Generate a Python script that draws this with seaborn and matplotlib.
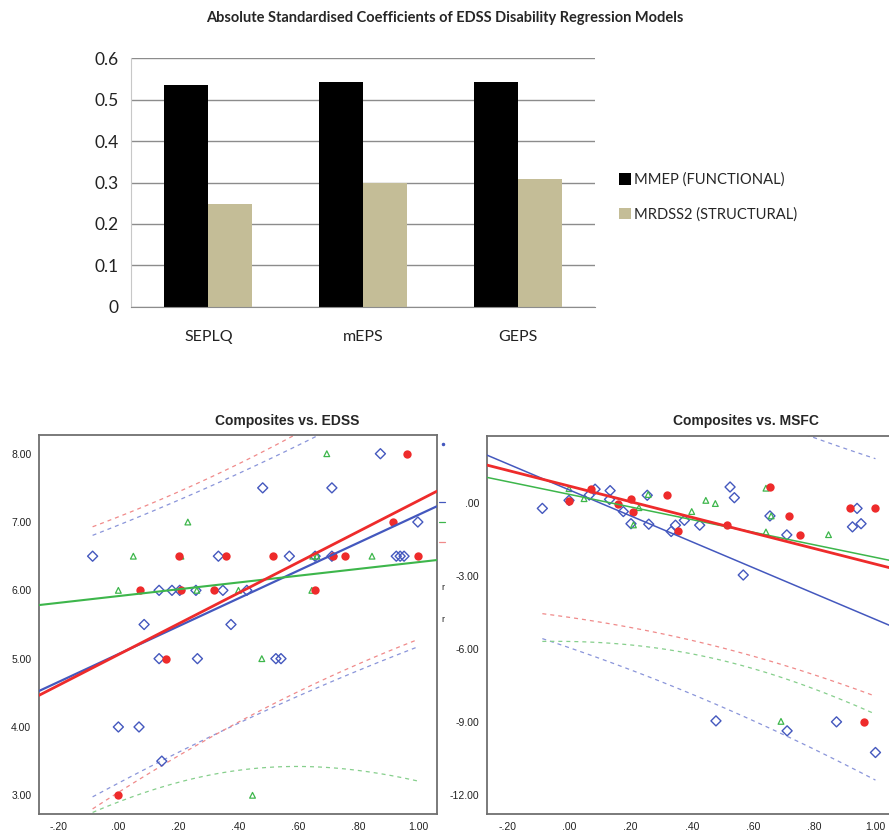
import numpy as np
import pandas as pd
import matplotlib
matplotlib.use("Agg")
import matplotlib.pyplot as plt
import seaborn as sns
from matplotlib import font_manager
from matplotlib.ticker import FuncFormatter, FixedLocator
from matplotlib.patches import Patch
from matplotlib.lines import Line2D

# ---------------- data: bar chart ----------------
bar_categories = ["SEPLQ", "mEPS", "GEPS"]
bar_series = ["MMEP (FUNCTIONAL)", "MRDSS2 (STRUCTURAL)"]
mmep_values = [0.536, 0.543, 0.543]
mrdss2_values = [0.248, 0.300, 0.309]
bar_yticks = [0, 0.1, 0.2, 0.3, 0.4, 0.5, 0.6]

# ---------------- data: Composites vs. EDSS ----------------
edss_blue_x = [-0.086, 0.0, 0.069, 0.086, 0.136, 0.136, 0.145, 0.179, 0.205, 0.259,
               0.264, 0.334, 0.349, 0.376, 0.429, 0.482, 0.526, 0.543, 0.571, 0.657,
               0.713, 0.713, 0.875, 0.928, 0.941, 0.954, 1.0]
edss_blue_y = [6.5, 4.0, 4.0, 5.5, 6.0, 5.0, 3.5, 6.0, 6.0, 6.0,
               5.0, 6.5, 6.0, 5.5, 6.0, 7.5, 5.0, 5.0, 6.5, 6.5,
               7.5, 6.5, 8.0, 6.5, 6.5, 6.5, 7.0]
edss_red_x = [0.0, 0.072, 0.160, 0.204, 0.210, 0.320, 0.359, 0.517, 0.657, 0.718,
              0.757, 0.916, 0.964, 1.0]
edss_red_y = [3.0, 6.0, 5.0, 6.5, 6.0, 6.0, 6.5, 6.5, 6.0, 6.5,
              6.5, 7.0, 8.0, 6.5]
edss_green_x = [0.0, 0.05, 0.209, 0.232, 0.262, 0.401, 0.448, 0.479, 0.646, 0.649,
                0.663, 0.696, 0.847]
edss_green_y = [6.0, 6.5, 6.5, 7.0, 6.0, 6.0, 3.0, 5.0, 6.0, 6.5,
                6.5, 8.0, 6.5]
# fitted lines (intercept at x=0, slope): blue, green, red
edss_fit_intercept = [5.066, 5.916, 5.059]
edss_fit_slope = [2.035, 0.496, 2.249]

# ---------------- data: Composites vs. MSFC ----------------
msfc_blue_x = [-0.087, 0.0, 0.066, 0.085, 0.134, 0.132, 0.177, 0.202, 0.255, 0.260,
               0.333, 0.347, 0.376, 0.426, 0.479, 0.525, 0.539, 0.568, 0.655, 0.710,
               0.711, 0.872, 0.924, 0.939, 0.952, 0.999]
msfc_blue_y = [-0.21, 0.12, 0.34, 0.58, 0.52, 0.16, -0.34, -0.84, 0.33, -0.86,
               -1.16, -0.90, -0.70, -0.90, -8.95, 0.67, 0.23, -2.95, -0.52, -1.30,
               -9.36, -8.99, -0.97, -0.21, -0.84, -10.25]
msfc_red_x = [0.0, 0.071, 0.159, 0.202, 0.209, 0.318, 0.354, 0.514, 0.655, 0.716,
              0.754, 0.915, 0.961, 0.999]
msfc_red_y = [0.10, 0.60, -0.01, 0.16, -0.34, 0.34, -1.16, -0.90, 0.67, -0.52,
              -1.30, -0.21, -8.99, -0.21]
msfc_green_x = [0.0, 0.049, 0.210, 0.228, 0.258, 0.400, 0.446, 0.477, 0.642, 0.642,
                0.659, 0.691, 0.846]
msfc_green_y = [0.60, 0.19, -0.89, -0.18, 0.36, -0.34, 0.12, -0.01, 0.62, -1.18,
                -0.52, -8.97, -1.29]
msfc_fit_intercept = [0.554, 0.370, 0.711]
msfc_fit_slope = [-5.335, -2.599, -3.216]

scatter_xticks = [-0.2, 0.0, 0.2, 0.4, 0.6, 0.8, 1.0]
edss_yticks = [3, 4, 5, 6, 7, 8]
msfc_yticks = [-12, -9, -6, -3, 0]

# ---------------- styling ----------------
sns.set_style("white")
available = {f.name for f in font_manager.fontManager.ttflist}
if "Liberation Sans Narrow" in available:
    narrow = "Liberation Sans Narrow"
elif "Lato" in available:
    narrow = "Lato"
else:
    narrow = "DejaVu Sans"
arial = "Liberation Sans" if "Liberation Sans" in available else "DejaVu Sans"
plt.rcParams["font.family"] = [arial, "DejaVu Sans"]

W, H = 889, 832
fig = plt.figure(figsize=(W / 100, H / 100), dpi=100)


def fx(px):
    return px / W


def fy(py):
    return 1 - py / H


# ================= bar chart =================
bar_df = pd.DataFrame({
    "category": bar_categories * 2,
    "series": [bar_series[0]] * 3 + [bar_series[1]] * 3,
    "value": mmep_values + mrdss2_values,
})
bar_colors = ["#000000", "#C4BD97"]
axb = fig.add_axes([fx(131), fy(306.7), fx(595 - 131), (306.7 - 58.3) / H])
sns.barplot(data=bar_df, x="category", y="value", hue="series", palette=bar_colors,
            width=0.57, gap=0, saturation=1, linewidth=0, legend=False, ax=axb)
axb.set_xlim(-0.5, 2.5)
axb.set_ylim(0, 0.6)
axb.set_xlabel("")
axb.set_ylabel("")
axb.yaxis.set_major_locator(FixedLocator(bar_yticks))
axb.set_yticklabels([f"{v:g}" for v in bar_yticks], family=narrow, fontsize=12.5)
axb.yaxis.grid(True, color="#8c8c8c", lw=1.0)
axb.set_axisbelow(True)
for s in ["top", "right"]:
    axb.spines[s].set_visible(False)
axb.spines["left"].set_color("#c8c8c8")
axb.spines["bottom"].set_color("#8c8c8c")
axb.tick_params(axis="y", length=5, color="#8c8c8c", width=1, pad=4, labelcolor="#222222")
axb.set_xticks([0, 1, 2])
axb.set_xticklabels(bar_categories, family=narrow, fontsize=11.5, color="#222222")
axb.set_xticks([-0.5, 0.5, 1.5, 2.5], minor=True)
axb.tick_params(axis="x", which="major", length=0, pad=17)
axb.tick_params(axis="x", which="minor", length=5, color="#8c8c8c", width=1)

handles = [Patch(facecolor=c, edgecolor="none") for c in bar_colors]
fig.legend(handles, bar_series, loc="center left", bbox_to_anchor=(fx(619), fy(197)),
           frameon=False, handlelength=0.8, handleheight=0.8, handletextpad=0.25,
           labelspacing=1.35, borderpad=0, borderaxespad=0,
           prop={"family": narrow, "size": 10.6})

fig.text(0.5, fy(18), "Absolute Standardised Coefficients of EDSS Disability Regression Models",
         ha="center", va="center", fontsize=10.5, fontweight="bold", family=narrow)

# ================= scatter panels =================
RED, BLUE, GREEN = "#EE2B2B", "#4458BE", "#3DB64B"
RED_L, BLUE_L, GREEN_L = "#F08A8A", "#8A95DA", "#86CF8C"


def t975(df):
    try:
        from scipy import stats
        return float(stats.t.ppf(0.975, df))
    except Exception:
        z = 1.959964
        g1 = (z ** 3 + z) / 4
        g2 = (5 * z ** 5 + 16 * z ** 3 + 3 * z) / 96
        g3 = (3 * z ** 7 + 19 * z ** 5 + 17 * z ** 3 - 15 * z) / 384
        return z + g1 / df + g2 / df ** 2 + g3 / df ** 3


def regression(x, y, a, b, xline, xband):
    """Fit line a + b*x with 95% individual prediction limits."""
    x = np.asarray(x, float)
    y = np.asarray(y, float)
    n = len(x)
    xbar = x.mean()
    sxx = ((x - xbar) ** 2).sum()
    s = np.sqrt(((y - (a + b * x)) ** 2).sum() / (n - 2))
    hw = t975(n - 2) * s * np.sqrt(1 + 1 / n + (xband - xbar) ** 2 / sxx)
    yb = a + b * xband
    return a + b * xline, yb - hw, yb + hw


def spss_fmt(v, pos=None):
    s = f"{v:.2f}"
    if s.startswith("0."):
        s = s[1:]
    elif s.startswith("-0."):
        s = "-" + s[2:]
    if s == "-.00":
        s = ".00"
    return s


def scatter_panel(ax, series, xlim, ylim, yticks, line_widths):
    ax.set_xlim(*xlim)
    ax.set_ylim(*ylim)
    allx = np.concatenate([np.asarray(s[0]) for s in series])
    xband = np.linspace(allx.min(), allx.max(), 120)
    xline = np.array(xlim)
    for (x, y, kind, a, b) in series:
        if kind == "blue":
            sns.scatterplot(x=x, y=y, marker="D", s=26, fc="none", ec=BLUE, linewidth=1.0,
                            ax=ax, zorder=3)
        elif kind == "green":
            sns.scatterplot(x=x, y=y, marker="^", s=17, fc="none", ec=GREEN, linewidth=0.9,
                            ax=ax, zorder=3)
        else:
            sns.scatterplot(x=x, y=y, marker="o", s=36, color=RED, linewidth=0,
                            ax=ax, zorder=4)
    cols = {"blue": (BLUE, BLUE_L), "green": (GREEN, GREEN_L), "red": (RED, RED_L)}
    for (x, y, kind, a, b) in series:
        c, cl = cols[kind]
        yl, lo, hi = regression(x, y, a, b, xline, xband)
        sns.lineplot(x=xband, y=lo, color=cl, lw=0.9, ls=(0, (3.2, 3.2)), ax=ax,
                     estimator=None, sort=False, zorder=2)
        sns.lineplot(x=xband, y=hi, color=cl, lw=0.9, ls=(0, (3.2, 3.2)), ax=ax,
                     estimator=None, sort=False, zorder=2)
        sns.lineplot(x=xline, y=yl, color=c, lw=line_widths[kind], ax=ax,
                     estimator=None, sort=False, zorder=5)
    ax.set_xlim(*xlim)
    ax.set_ylim(*ylim)
    ax.xaxis.set_major_locator(FixedLocator(scatter_xticks))
    ax.yaxis.set_major_locator(FixedLocator(yticks))
    ax.xaxis.set_major_formatter(FuncFormatter(spss_fmt))
    ax.yaxis.set_major_formatter(FuncFormatter(spss_fmt))
    for s in ax.spines.values():
        s.set_color("#6f6f6f")
        s.set_linewidth(1.3)
        s.set_visible(True)
    ax.tick_params(direction="out", length=4, width=1.1, color="#6f6f6f", labelsize=7.5,
                   labelcolor="#222222", pad=1.5)
    ax.set_xlabel("")
    ax.set_ylabel("")
    ax.grid(False)


ax1 = fig.add_axes([fx(39), fy(814), fx(437.3 - 39), (814 - 435) / H])
scatter_panel(ax1,
              [(edss_blue_x, edss_blue_y, "blue", edss_fit_intercept[0], edss_fit_slope[0]),
               (edss_green_x, edss_green_y, "green", edss_fit_intercept[1], edss_fit_slope[1]),
               (edss_red_x, edss_red_y, "red", edss_fit_intercept[2], edss_fit_slope[2])],
              (-0.265, 1.065), (2.726, 8.274), edss_yticks,
              {"blue": 1.6, "green": 1.5, "red": 2.0})

ax2 = fig.add_axes([fx(487), fy(814), fx(900 - 487), (814 - 435.7) / H])
scatter_panel(ax2,
              [(msfc_blue_x, msfc_blue_y, "blue", msfc_fit_intercept[0], msfc_fit_slope[0]),
               (msfc_green_x, msfc_green_y, "green", msfc_fit_intercept[1], msfc_fit_slope[1]),
               (msfc_red_x, msfc_red_y, "red", msfc_fit_intercept[2], msfc_fit_slope[2])],
              (-0.2674, 1.079), (-12.78, 2.78), msfc_yticks,
              {"blue": 1.1, "green": 1.1, "red": 2.0})

fig.text(fx(287), fy(421), "Composites vs. EDSS", ha="center", va="center",
         fontsize=10, fontweight="bold")
fig.text(fx(746), fy(421), "Composites vs. MSFC", ha="center", va="center",
         fontsize=10, fontweight="bold")

# cropped remnants of the left panel's legend, visible between the two panels
fig.add_artist(Line2D([fx(442.5)], [fy(444)], marker="o", ms=1.5, color=BLUE, lw=0))
for py, c in [(502, BLUE), (522, GREEN), (542, RED_L)]:
    fig.add_artist(Line2D([fx(439), fx(445)], [fy(py), fy(py)], color=c, lw=0.9))
for py in (587, 619):
    fig.text(fx(442.5), fy(py), "r", ha="center", va="center", fontsize=6.5, color="#222222")

fig.savefig("out.png", dpi=100, facecolor="white")
